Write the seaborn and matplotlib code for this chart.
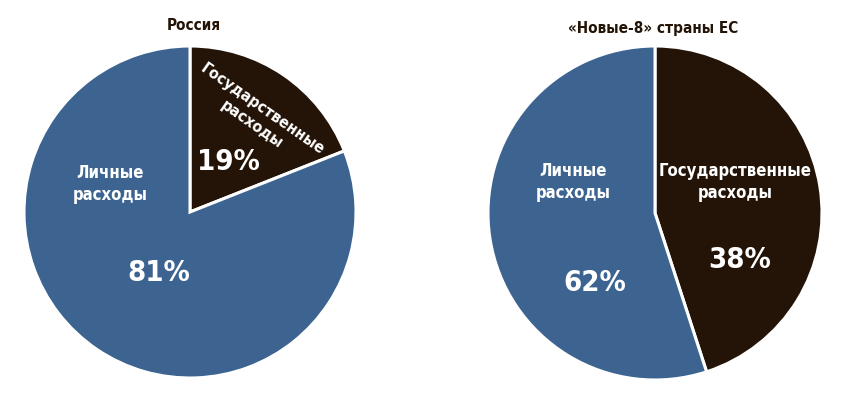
import matplotlib
matplotlib.use("Agg")
import matplotlib.pyplot as plt
import seaborn as sns

# ---- data ----
titles = ["Россия", "«Новые-8» страны ЕС"]
categories = ["Государственные\nрасходы", "Личные\nрасходы"]
# slice sizes as drawn in the reference (state, personal)
russia_shares = [19, 81]
new8_shares = [45, 55]
# printed percentage labels
russia_labels = ["19%", "81%"]
new8_labels = ["38%", "62%"]

sns.set_theme(style="white")
plt.rcParams['font.family'] = ['DejaVu Sans']
plt.rcParams['font.stretch'] = 'condensed'

colors = ["#231407", "#3d6490"]
text_dark = "#231407"

W, H = 846, 399
fig = plt.figure(figsize=(W / 100, H / 100), dpi=100)


def make_ax(cx, cy, r):
    ax = fig.add_axes([(cx - r) / W, (H - cy - r) / H, 2 * r / W, 2 * r / H])
    ax.set_xlim(-1, 1)
    ax.set_ylim(-1, 1)
    ax.set_aspect("equal")
    ax.axis("off")
    return ax


def put(ax, cx, cy, r, px, py, s, **kw):
    ax.text((px - cx) / r, (cy - py) / r, s, ha="center", va="center",
            fontweight="bold", fontstretch="condensed", **kw)


# ---- left: Russia ----
cx1, cy1, r1 = 190, 212, 166
ax1 = make_ax(cx1, cy1, r1)
ax1.pie(russia_shares, colors=colors, startangle=90, counterclock=False,
        radius=1, wedgeprops=dict(edgecolor="white", linewidth=2.2))
ax1.set_xlim(-1, 1)
ax1.set_ylim(-1, 1)
put(ax1, cx1, cy1, r1, 194, 25, titles[0], color=text_dark, fontsize=11)
put(ax1, cx1, cy1, r1, 257, 117, categories[0], color="white", fontsize=11.5,
    rotation=-35, linespacing=1.3, rotation_mode="anchor")
put(ax1, cx1, cy1, r1, 228, 162, russia_labels[0], color="white", fontsize=21)
put(ax1, cx1, cy1, r1, 110, 184, categories[1], color="white", fontsize=12,
    linespacing=1.3)
put(ax1, cx1, cy1, r1, 159, 273, russia_labels[1], color="white", fontsize=21)

# ---- right: New-8 EU ----
cx2, cy2, r2 = 655, 213, 167
ax2 = make_ax(cx2, cy2, r2)
ax2.pie(new8_shares, colors=colors, startangle=90, counterclock=False,
        radius=1, wedgeprops=dict(edgecolor="white", linewidth=2.2))
ax2.set_xlim(-1, 1)
ax2.set_ylim(-1, 1)
put(ax2, cx2, cy2, r2, 653, 28, titles[1], color=text_dark, fontsize=11)
put(ax2, cx2, cy2, r2, 735, 182, categories[0], color="white", fontsize=12,
    linespacing=1.3)
put(ax2, cx2, cy2, r2, 740, 260, new8_labels[0], color="white", fontsize=21)
put(ax2, cx2, cy2, r2, 573, 182, categories[1], color="white", fontsize=12,
    linespacing=1.3)
put(ax2, cx2, cy2, r2, 595, 283, new8_labels[1], color="white", fontsize=21)

fig.savefig("out.png", dpi=100, facecolor="white")
